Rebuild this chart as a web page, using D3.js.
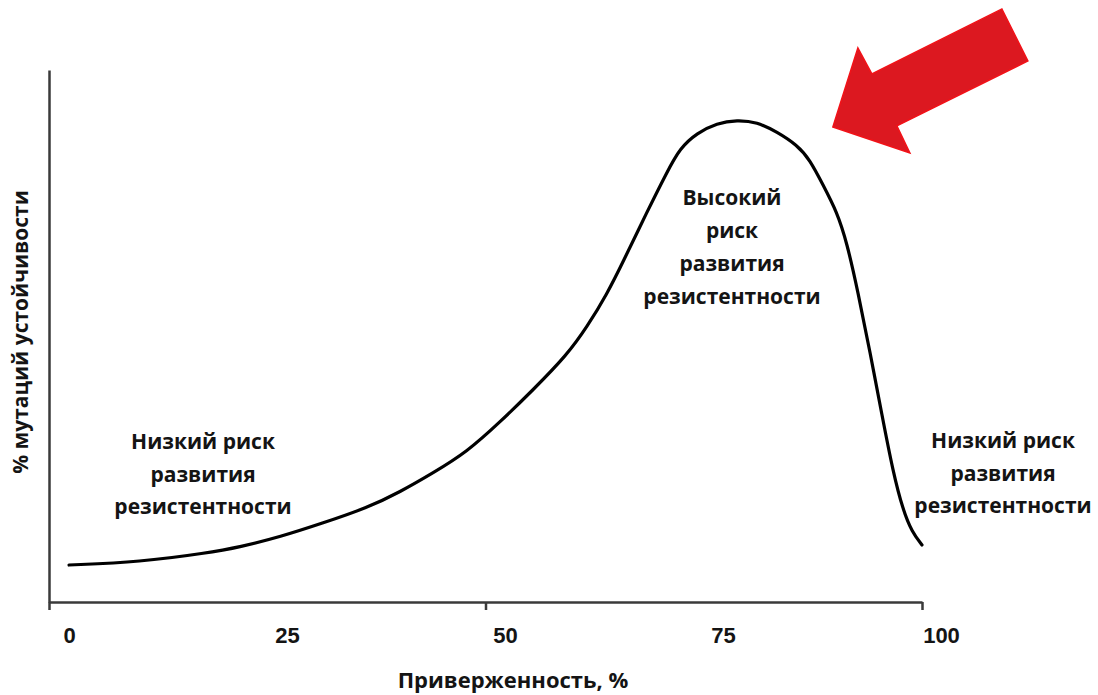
<!DOCTYPE html>
<html>
<head>
<meta charset="utf-8">
<script src="https://cdn.jsdelivr.net/npm/d3@7"></script>
<style>
  html, body { margin: 0; padding: 0; background: #fff; }
  svg { display: block; }
</style>
</head>
<body>
<svg id="chart" width="1098" height="695"></svg>
<script>
// ---- data ----
const adherence = [0, 8.14, 15.83, 19.61, 24.2, 29.13, 34.17, 37.96, 41.74, 45.64, 49.43, 53.21, 57.11, 59.4, 61.7, 63.53, 66.28, 68.58, 70.07, 72.02, 74.31, 76.61, 78.9, 81.19, 83.49, 84.98, 86.47, 88.07, 89.22, 90.48, 91.86, 93.23, 94.5, 95.64, 96.67, 97.82];
const mutations = [6.95, 7.52, 9.21, 10.34, 12.22, 14.85, 17.67, 20.68, 24.25, 28.2, 33.83, 39.85, 46.43, 51.69, 57.89, 63.91, 73.31, 80.83, 85.34, 88.16, 90.04, 90.6, 90.23, 88.35, 85.9, 83.08, 78.38, 73.31, 67.48, 58.27, 46.99, 35.15, 24.44, 17.29, 13.16, 10.71];
const xTickValues = [0, 25, 50, 75, 100];
const xAxisTickMarks = [0, 50, 100];
const xTitle = "Приверженность, %";
const yTitle = "% мутаций устойчивости";
const lowRiskLeft = ["Низкий риск", "развития", "резистентности"];
const highRisk = ["Высокий", "риск", "развития", "резистентности"];
const lowRiskRight = ["Низкий риск", "развития", "резистентности"];

// ---- scales ----
const svg = d3.select("#chart");
const x = d3.scaleLinear().domain([0, 100]).range([69, 941]);      // data / label scale
const xLine = d3.scaleLinear().domain([0, 100]).range([49, 922]);  // axis line scale
const y = d3.scaleLinear().domain([0, 100]).range([602, 70]);

const textFont = "'Open Sans', 'DejaVu Sans', sans-serif";
const textColor = "#141414";
const axisColor = "#3a3a3a";

// y axis line
const yAxisG = svg.append("g").attr("transform", `translate(${xLine(0)},0)`)
  .call(d3.axisLeft(y).tickValues([]).tickSizeOuter(0));
yAxisG.select(".domain").attr("stroke", axisColor).attr("stroke-width", 2.5);

// x axis line with tick marks
const xAxisG = svg.append("g").attr("transform", `translate(0,${y(0)})`)
  .call(d3.axisBottom(xLine).tickValues(xAxisTickMarks).tickSize(8).tickSizeOuter(0).tickFormat(""));
xAxisG.select(".domain").attr("stroke", axisColor).attr("stroke-width", 2.5);
xAxisG.selectAll(".tick line").attr("stroke", axisColor).attr("stroke-width", 2.5);

// x tick labels
const xLabG = svg.append("g").attr("transform", `translate(0,${y(0)})`)
  .call(d3.axisBottom(x).tickValues(xTickValues).tickSize(0).tickPadding(25).tickFormat(d3.format("d")));
xLabG.select(".domain").remove();
xLabG.selectAll("text")
  .attr("font-family", "'Liberation Sans', Arial, sans-serif")
  .attr("font-weight", "bold")
  .attr("font-size", 22)
  .attr("fill", textColor);

// curve
const line = d3.line()
  .x((d, i) => x(adherence[i]))
  .y((d, i) => y(mutations[i]))
  .curve(d3.curveBasis);
svg.append("path")
  .datum(adherence)
  .attr("d", line)
  .attr("fill", "none")
  .attr("stroke", "#000")
  .attr("stroke-width", 3.2)
  .attr("stroke-linecap", "round");

// axis titles
svg.append("text")
  .attr("x", 513).attr("y", 688)
  .attr("text-anchor", "middle")
  .attr("font-family", textFont).attr("font-weight", "bold").attr("font-size", 22)
  .attr("fill", textColor)
  .text(xTitle);

svg.append("text")
  .attr("transform", "translate(28,332) rotate(-90)")
  .attr("text-anchor", "middle")
  .attr("font-family", textFont).attr("font-weight", "bold").attr("font-size", 21)
  .attr("fill", textColor)
  .text(yTitle);

// annotations
function block(lines, cx, baseline, step) {
  const t = svg.append("text")
    .attr("text-anchor", "middle")
    .attr("font-family", textFont).attr("font-weight", "bold").attr("font-size", 21)
    .attr("fill", textColor);
  lines.forEach((s, i) => {
    t.append("tspan").attr("x", cx).attr("y", baseline + i * step).text(s);
  });
}
block(lowRiskLeft, 203, 449, 32.5);
block(highRisk, 732, 205, 33);
block(lowRiskRight, 1003, 448, 32.5);

// red arrow (tip anchored in data coordinates)
const tip = [x(87.6), y(89.3)];
const arrowShape = [[0, 0], [25, -79], [39, -53], [169, -118], [195, -66], [64, -1], [77, 26]];
svg.append("polygon")
  .attr("points", arrowShape.map(p => [tip[0] + p[0], tip[1] + p[1]].join(",")).join(" "))
  .attr("fill", "#dc1820")
  .attr("stroke", "#f21218")
  .attr("stroke-width", 1.5)
  .attr("stroke-linejoin", "miter");
</script>
</body>
</html>
